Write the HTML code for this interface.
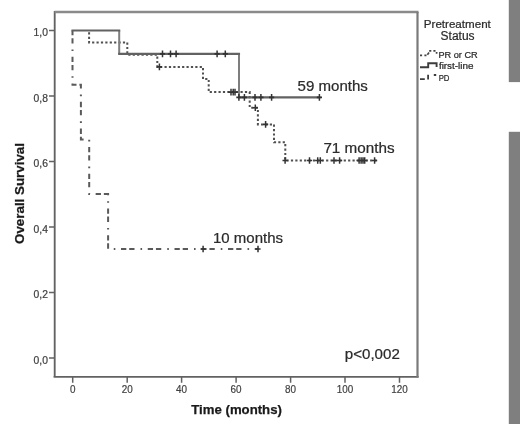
<!DOCTYPE html>
<html><head><meta charset="utf-8"><title>Kaplan-Meier</title>
<style>
html,body{margin:0;padding:0;background:#fff;}
body{width:520px;height:424px;overflow:hidden;position:relative;font-family:"Liberation Sans",sans-serif;}
svg{position:absolute;left:0;top:0;display:block;will-change:transform;}
</style></head>
<body>
<svg width="520" height="424" viewBox="0 0 520 424">
<rect x="0" y="0" width="520" height="424" fill="#fff"/>
<rect x="508.8" y="0" width="11.2" height="82.1" fill="#7f7f7f"/>
<rect x="508.8" y="131.8" width="11.2" height="292.2" fill="#7f7f7f"/>
<path d="M54.7 11V376.8" stroke="#626262" stroke-width="1.85" fill="none"/>
<path d="M53.6 376.85H418.6" stroke="#626262" stroke-width="1.85" fill="none"/>
<path d="M54.6 12H418.5" stroke="#8a8a8a" stroke-width="2.4" fill="none"/>
<path d="M417.5 12V377.5" stroke="#7a7a7a" stroke-width="2.2" fill="none"/>
<path d="M49 30.5H54.6M49 96.0H54.6M49 161.5H54.6M49 227.0H54.6M49 292.5H54.6M49 358.0H54.6M72.7 376.5V382.8M127.2 376.5V382.8M181.6 376.5V382.8M236.1 376.5V382.8M290.6 376.5V382.8M345.0 376.5V382.8M399.5 376.5V382.8" stroke="#626262" stroke-width="1.5" fill="none"/>
<g font-family="Liberation Sans, sans-serif" font-size="10.3" fill="#404040" stroke="#404040" stroke-width="0.22"><text x="47.9" y="36.1" text-anchor="end">1,0</text><text x="47.9" y="101.6" text-anchor="end">0,8</text><text x="47.9" y="167.1" text-anchor="end">0,6</text><text x="47.9" y="232.6" text-anchor="end">0,4</text><text x="47.9" y="298.1" text-anchor="end">0,2</text><text x="47.9" y="363.6" text-anchor="end">0,0</text><text x="72.7" y="392.7" text-anchor="middle" font-size="11" stroke-width="0.2" textLength="5.5" lengthAdjust="spacingAndGlyphs">0</text><text x="127.2" y="392.7" text-anchor="middle" font-size="11" stroke-width="0.2" textLength="11.0" lengthAdjust="spacingAndGlyphs">20</text><text x="181.6" y="392.7" text-anchor="middle" font-size="11" stroke-width="0.2" textLength="11.0" lengthAdjust="spacingAndGlyphs">40</text><text x="236.1" y="392.7" text-anchor="middle" font-size="11" stroke-width="0.2" textLength="11.0" lengthAdjust="spacingAndGlyphs">60</text><text x="290.6" y="392.7" text-anchor="middle" font-size="11" stroke-width="0.2" textLength="11.0" lengthAdjust="spacingAndGlyphs">80</text><text x="345.0" y="392.7" text-anchor="middle" font-size="11" stroke-width="0.2" textLength="16.5" lengthAdjust="spacingAndGlyphs">100</text><text x="399.5" y="392.7" text-anchor="middle" font-size="11" stroke-width="0.2" textLength="16.5" lengthAdjust="spacingAndGlyphs">120</text></g>
<text x="236.6" y="413.6" text-anchor="middle" font-family="Liberation Sans, sans-serif" font-weight="bold" font-size="13.2" fill="#1a1a1a" stroke="#1a1a1a" stroke-width="0.25">Time (months)</text>
<text transform="translate(24.1 193.5) rotate(-90)" text-anchor="middle" font-family="Liberation Sans, sans-serif" font-weight="bold" font-size="13.6" fill="#1a1a1a" stroke="#1a1a1a" stroke-width="0.25" textLength="101" lengthAdjust="spacingAndGlyphs">Overall Survival</text>
<path d="M72.5 30.5V84.8H80.9V139.4H89.2V194.1H108.1V249H258.3" stroke="#5a5a5a" stroke-width="2" fill="none" stroke-dasharray="5.3 2.9 5.3 6 1.6 5.65" stroke-dashoffset="0.5"/>
<path d="M89.1 30.5V42.5H127.3V54.7H157.3V66.9H203V79H208.7V92.1H249.7V107.8H257.9V124.4H274V142.3H285.3V160.5H377.2" stroke="#505050" stroke-width="2" fill="none" stroke-dasharray="2.2 2.2" stroke-dashoffset="2.6"/>
<path d="M119.2 30.5V54M239 54V97.4" stroke="#7e7e7e" stroke-width="2" fill="none"/>
<path d="M72.5 30.5H119.2M119.2 53.9H239M239 97.4H319.4" stroke="#626262" stroke-width="2.1" fill="none" stroke-linecap="square"/>
<path d="M162.5 50.6V57.2M170.5 50.6V57.2M176.1 50.6V57.2M217.1 50.6V57.2M225.3 50.6V57.2M238.9 94.1V100.7M244.4 94.1V100.7M255 94.1V100.7M260.9 94.1V100.7M271.6 94.1V100.7M319.4 94.1V100.7" stroke="#333" stroke-width="1.5" fill="none"/><path d="M159.9 53.9H165.1M167.9 53.9H173.1M173.5 53.9H178.7M214.5 53.9H219.7M222.7 53.9H227.9M236.3 97.4H241.5M241.8 97.4H247.0M252.4 97.4H257.6M258.3 97.4H263.5M269.0 97.4H274.2M316.8 97.4H322.0" stroke="#333" stroke-width="1.6" fill="none"/>
<path d="M159.4 63.6V70.2M231 88.8V95.4M233.2 88.8V95.4M235 88.8V95.4M255.3 104.5V111.1M265.6 121.1V127.7M285.1 157.2V163.8M309.5 157.2V163.8M317.7 157.2V163.8M320.3 157.2V163.8M334 157.2V163.8M339.6 157.2V163.8M359.1 157.2V163.8M361.1 157.2V163.8M363 157.2V163.8M364.7 157.2V163.8M374.6 157.2V163.8" stroke="#333" stroke-width="1.5" fill="none"/><path d="M156.8 66.9H162.0M228.4 92.1H233.6M230.6 92.1H235.8M232.4 92.1H237.6M252.7 107.8H257.9M263.0 124.4H268.2M282.5 160.5H287.7M306.9 160.5H312.1M315.1 160.5H320.3M317.7 160.5H322.9M331.4 160.5H336.6M337.0 160.5H342.2M356.5 160.5H361.7M358.5 160.5H363.7M360.4 160.5H365.6M362.1 160.5H367.3M372.0 160.5H377.2" stroke="#333" stroke-width="1.6" fill="none"/>
<path d="M203.1 245.7V252.3M258 245.7V252.3" stroke="#333" stroke-width="1.5" fill="none"/><path d="M200.5 249H205.7M255.4 249H260.6" stroke="#333" stroke-width="1.6" fill="none"/>
<g font-family="Liberation Sans, sans-serif" font-size="14" fill="#2b2b2b" stroke="#2b2b2b" stroke-width="0.22"><text x="297.6" y="91.3" textLength="70.3" lengthAdjust="spacingAndGlyphs">59 months</text><text x="323.4" y="152.6" textLength="71.2" lengthAdjust="spacingAndGlyphs">71 months</text><text x="213" y="242.5" textLength="70" lengthAdjust="spacingAndGlyphs">10 months</text><text x="344.8" y="358.7" textLength="55" lengthAdjust="spacingAndGlyphs">p&lt;0,002</text></g>
<g font-family="Liberation Sans, sans-serif" fill="#2a2a2a" stroke="#2a2a2a" stroke-width="0.22"><text x="457.3" y="28" text-anchor="middle" font-size="11.6">Pretreatment</text><text x="457.6" y="39.8" text-anchor="middle" font-size="12">Status</text><text x="438.4" y="57.5" font-size="8.5" textLength="39.3" lengthAdjust="spacingAndGlyphs">PR or CR</text><text x="438.9" y="68.9" font-size="8.5" textLength="34.6" lengthAdjust="spacingAndGlyphs">first-line</text><text x="438.7" y="81.2" font-size="8.5" textLength="10.8" lengthAdjust="spacingAndGlyphs">PD</text></g>
<path d="M420 55.4H422.1M424.4 55.4H426.5M427.4 54.7L429 52.5M429.2 50.9H431.3M433.4 50.9H435.5M436.6 52V53.8" stroke="#444" stroke-width="1.7" fill="none"/>
<path d="M420 67.2H428.2V63.2H436.6V67" stroke="#3c3c3c" stroke-width="1.9" fill="none"/>
<path d="M420 79.1H424.8M428.1 74.7V79.5M433.8 75H436.2" stroke="#3c3c3c" stroke-width="1.8" fill="none"/>
</svg>
</body></html>
